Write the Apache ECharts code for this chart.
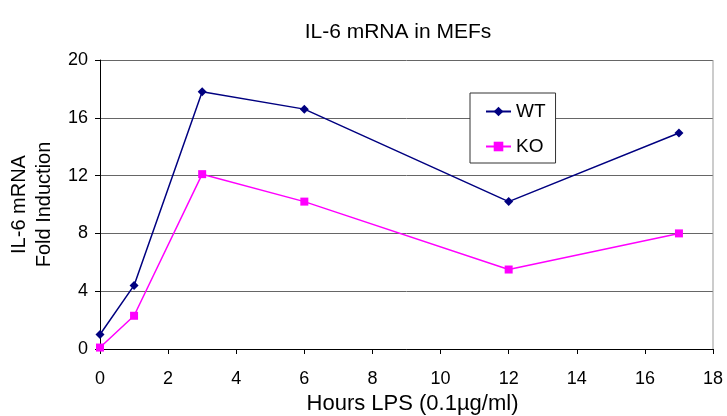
<!DOCTYPE html>
<html><head><meta charset="utf-8">
<script src="https://cdn.jsdelivr.net/npm/echarts@6/dist/echarts.min.js"></script>
<style>html,body{margin:0;padding:0;background:#fff}#c{width:727px;height:416px}</style>
</head><body><div id="c"></div>
<script>
const hours = [0, 1, 3, 6, 12, 17];
const wtValues = [1.0, 4.4, 17.8, 16.6, 10.2, 14.95];
const koValues = [0.1, 2.3, 12.1, 10.2, 5.5, 8.0];
const seriesNames = ['WT', 'KO'];
const xTicks = [0, 2, 4, 6, 8, 10, 12, 14, 16, 18];
const yTicks = [0, 4, 8, 12, 16, 20];

const font = '"Liberation Sans", Arial, sans-serif';
const chart = echarts.init(document.getElementById('c'), null, {renderer: 'canvas'});
chart.setOption({
  animation: false,
  backgroundColor: '#fff',
  title: {text: 'IL-6 mRNA in MEFs', left: 393, top: 17, textAlign: 'center',
    textStyle: {fontFamily: font, fontSize: 21, fontWeight: 'normal', color: '#000'}},
  grid: {left: 100, right: 14, top: 60, bottom: 67, containLabel: false, outerBoundsMode: 'none',
    show: false},
  legend: {
    orient: 'vertical', left: 470, top: 93, padding: [9, 10, 7, 15],
    backgroundColor: '#fff', borderColor: '#333', borderWidth: 1,
    itemGap: 16, itemWidth: 25, itemHeight: 12,
    textStyle: {fontFamily: font, fontSize: 19, color: '#000'},
    data: seriesNames
  },
  xAxis: {
    type: 'value', min: 0, max: 18, interval: 2,
    name: 'Hours LPS (0.1µg/ml)', nameLocation: 'middle', nameGap: 44,
    nameTextStyle: {fontFamily: font, fontSize: 22, color: '#000', padding: [0, 0, 0, 12]},
    axisLine: {onZero: false, lineStyle: {color: '#000', width: 1}},
    axisTick: {show: true, length: 5, inside: false, lineStyle: {color: '#000'}},
    axisLabel: {fontFamily: font, fontSize: 18, color: '#000', margin: 21,
      formatter: v => xTicks.includes(v) ? String(v) : ''},
    splitLine: {show: false}
  },
  yAxis: {
    type: 'value', min: 0, max: 20, interval: 4,
    name: 'IL-6 mRNA\nFold Induction', nameLocation: 'middle', nameGap: 40, nameRotate: 90,
    nameTextStyle: {fontFamily: font, fontSize: 20, color: '#000', lineHeight: 25},
    axisLine: {show: true, lineStyle: {color: '#000', width: 1}},
    axisTick: {show: true, length: 5, lineStyle: {color: '#000'}},
    axisLabel: {fontFamily: font, fontSize: 18, color: '#000', margin: 12,
      formatter: v => yTicks.includes(v) ? String(v) : ''},
    splitLine: {show: true, lineStyle: {color: '#666', width: 1}}
  },
  series: [
    {name: seriesNames[0], type: 'line', data: hours.map((h, i) => [h, wtValues[i]]),
      symbol: 'diamond', symbolSize: 9, color: '#000080',
      lineStyle: {width: 1.5, color: '#000080'}, itemStyle: {color: '#000080'}},
    {name: seriesNames[1], type: 'line', data: hours.map((h, i) => [h, koValues[i]]),
      symbol: 'rect', symbolSize: 8, color: '#ff00ff',
      lineStyle: {width: 1.5, color: '#ff00ff'}, itemStyle: {color: '#ff00ff'}},
    {type: 'line', data: [[18, 0], [18, 20]], symbol: 'none', silent: true,
      lineStyle: {color: '#999', width: 1}, tooltip: {show: false}}
  ]
});
</script></body></html>
